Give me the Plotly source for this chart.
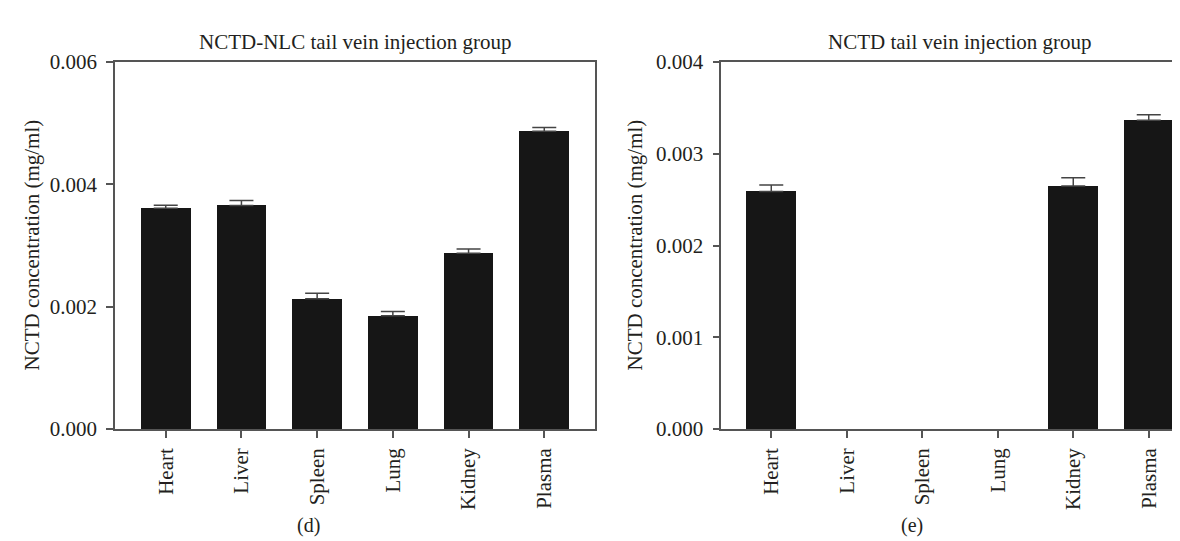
import plotly.graph_objects as go

W, H = 1180, 541

organs = ["Heart", "Liver", "Spleen", "Lung", "Kidney", "Plasma"]

# Panel (d): NCTD-NLC tail vein injection group
nlc_mean = [0.00361, 0.003655, 0.00213, 0.00185, 0.002875, 0.00487]
nlc_err = [0.00005, 0.00008, 0.00009, 0.00007, 0.00007, 0.00006]

# Panel (e): NCTD tail vein injection group (not detected in liver, spleen, lung)
nctd_mean = [0.00259, 0.0, 0.0, 0.0, 0.00265, 0.003365]
nctd_err = [0.00007, 0.0, 0.0, 0.0, 0.00009, 0.00006]

left_ticks = [0.000, 0.002, 0.004, 0.006]
right_ticks = [0.000, 0.001, 0.002, 0.003, 0.004]

FONT = "Liberation Serif"
TXT = "#231f20"
BAR = "#161616"
LINE = "#555555"


def px_x(p):
    return p / W


def px_y(p):
    return 1 - p / H


fig = go.Figure()

for xa, ya, vals, errs in (("x", "y", nlc_mean, nlc_err), ("x2", "y2", nctd_mean, nctd_err)):
    fig.add_trace(go.Bar(
        x=organs, y=vals, xaxis=xa, yaxis=ya,
        marker=dict(color=BAR, line=dict(width=0)), width=0.655,
        showlegend=False, hoverinfo="x+y",
    ))
    # error bars only where a value was measured
    keep = [i for i, v in enumerate(vals) if v > 0]
    fig.add_trace(go.Scatter(
        x=[organs[i] for i in keep], y=[vals[i] for i in keep],
        xaxis=xa, yaxis=ya, mode="markers",
        marker=dict(size=1, opacity=0),
        error_y=dict(type="data", array=[errs[i] for i in keep],
                     arrayminus=[0] * len(keep), symmetric=False,
                     color="#444444", thickness=1.5, width=12),
        showlegend=False, hoverinfo="skip",
    ))

ydom = [px_y(428), px_y(44)]

common_x = dict(
    type="category", showline=True, linecolor=LINE, linewidth=1.5,
    ticks="outside", ticklen=7, tickwidth=1.5, tickcolor=LINE,
    tickangle=-90, tickfont=dict(family=FONT, size=21, color=TXT),
    ticklabelstandoff=2,
    showgrid=False, zeroline=False, fixedrange=True,
)
common_y = dict(
    showline=True, linecolor=LINE, linewidth=1.5,
    ticks="outside", ticklen=7, tickwidth=1.5, tickcolor=LINE,
    tickfont=dict(family=FONT, size=21, color=TXT), tickformat=".3f",
    ticklabelstandoff=5,
    showgrid=False, zeroline=False, fixedrange=True,
)

fig.update_layout(
    width=W, height=H,
    margin=dict(l=0, r=0, t=0, b=0),
    paper_bgcolor="white", plot_bgcolor="white",
    bargap=0,
    xaxis=dict(common_x, domain=[px_x(107), px_x(587)], range=[-0.67, 5.67],
               mirror=True, anchor="y"),
    yaxis=dict(common_y, domain=ydom, range=[0, 0.006], tickvals=left_ticks,
               mirror=True, anchor="x"),
    xaxis2=dict(common_x, domain=[px_x(713.3), 1.0], range=[-0.662, 5.52],
                mirror=True, anchor="y2"),
    yaxis2=dict(common_y, domain=ydom, range=[0, 0.004], tickvals=right_ticks,
                mirror=False, anchor="x2"),
)

ann = [
    dict(text="NCTD-NLC tail vein injection group", x=px_x(347), y=px_y(23), size=21),
    dict(text="NCTD tail vein injection group", x=px_x(952), y=px_y(23), size=21),
    dict(text="(d)", x=px_x(300), y=px_y(529), size=20),
    dict(text="(e)", x=px_x(904), y=px_y(529), size=20),
]
for a in ann:
    fig.add_annotation(xref="paper", yref="paper", xanchor="center", yanchor="middle",
                       showarrow=False, text=a["text"], x=a["x"], y=a["y"],
                       font=dict(family=FONT, size=a["size"], color=TXT))

for xc in (24, 627):
    fig.add_annotation(text="NCTD concentration (mg/ml)", xref="paper", yref="paper",
                       x=px_x(xc), y=px_y(236), xanchor="center", yanchor="middle",
                       textangle=-90, showarrow=False,
                       font=dict(family=FONT, size=21, color=TXT))

fig.write_html("out.html")
